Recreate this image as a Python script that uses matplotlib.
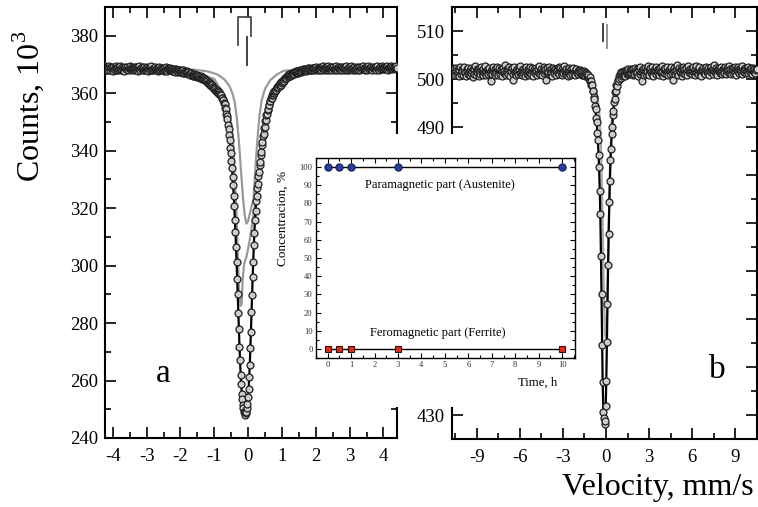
import numpy as np
import matplotlib
matplotlib.use("Agg")
import matplotlib.pyplot as plt
from matplotlib.patches import Rectangle
from matplotlib.ticker import MultipleLocator, FuncFormatter

# ---------------- spectrum a (velocity channels -4.25 .. 4.40 mm/s) ----------------
a_counts_left = [
    368.9, 368.1, 369.3, 368.4, 367.9, 369.0, 368.6, 368.2, 369.4, 368.7,
    368.0, 368.8, 369.1, 368.3, 368.6, 369.2, 367.8, 368.5, 368.9, 368.1,
    369.5, 368.6, 368.2, 368.8, 367.9, 369.0, 368.4, 368.7, 369.3, 368.0,
    368.5, 369.0, 368.2, 368.9, 368.6, 367.7, 368.8, 369.1, 368.3, 368.6,
    369.2, 368.4, 368.0, 368.9, 368.5, 369.4, 368.1, 368.7, 368.3, 369.0,
    368.6, 367.9, 368.8, 369.1, 368.4, 368.2, 369.0, 368.6, 367.8, 368.9,
    368.3, 369.3, 368.5, 368.1, 368.8, 368.4, 369.0, 367.9, 368.6, 368.2,
    369.1, 368.5, 368.0, 368.8, 368.3, 369.2, 368.6, 367.8, 368.4, 368.9,
    368.1, 368.7, 369.3, 368.2, 368.5, 367.9, 368.8, 368.3, 368.6, 369.0,
    368.0, 368.4, 368.9, 367.8, 368.6, 368.2, 369.1, 368.3, 367.9, 368.7,
    368.4, 368.0, 368.8, 368.5, 367.7, 368.6, 368.2, 369.0, 368.1, 368.4,
    367.8, 368.6, 368.3, 368.0, 368.7, 367.9, 368.4, 368.1, 367.6, 368.5,
    368.2, 367.7, 368.4, 367.9, 367.5, 368.3, 368.0, 367.6, 368.1, 367.4,
    367.9, 368.2, 367.5, 367.8, 367.3, 368.0, 367.6, 367.2, 367.9, 367.5,
    367.1, 367.8, 367.4, 367.0, 367.6,
]
a_counts_dip = [
    367.5, 366.8, 367.4, 366.6, 367.2, 366.5, 367.0, 366.9, 366.3, 366.8,
    366.1, 366.7, 366.0, 366.5, 365.9, 366.4, 365.7, 366.2, 365.6, 366.1,
    365.5, 366.0,
    365.4, 365.9, 365.2, 365.6, 365.0, 365.4, 364.8, 365.3, 364.6, 364.9, 364.3,
    364.6, 364.0, 364.3, 363.6, 363.9, 363.2, 363.5, 362.9, 363.1, 362.4, 362.8, 362.0,
    362.3, 361.6, 361.9, 361.2, 361.5, 360.8, 361.1, 360.5, 360.7, 360.0, 360.3, 359.6,
    359.8, 359.0, 359.2, 358.4, 358.5, 357.6, 357.6, 356.5, 356.3, 355.0, 354.5, 352.9, 352.2,
    350.9, 348.8, 347.6, 345.3, 343.8, 341.1, 339.3, 336.3, 334.1, 330.8, 328.0, 324.1, 320.7,
    316.0, 311.7, 306.3, 301.4, 295.4, 290.0, 283.6, 278.0, 271.8, 267.0,
    262.0, 258.7, 255.4, 253.5, 251.4, 250.5, 249.1, 248.9, 248.1,
    248.8, 249.1, 250.6, 251.8, 254.4, 257.0, 261.2, 265.4, 271.2, 276.8,
    283.7, 289.6, 296.0, 301.3, 307.0, 311.3, 315.8, 319.0,
    322.6, 324.3, 326.9, 328.3, 331.1, 332.5, 334.9, 336.1, 338.5, 339.7,
    342.0, 343.0, 345.1, 345.9, 347.8, 348.4, 350.2, 350.7, 352.3, 352.7,
    354.2, 354.5, 355.9, 356.0, 357.3, 357.3, 358.4, 358.3, 359.4, 359.2,
    360.2, 360.0,
    360.9, 360.6, 361.5, 361.2, 362.1, 361.7, 362.5, 362.1, 362.9, 362.5,
    363.4, 363.0, 363.9, 363.5, 364.3, 364.0, 364.8, 364.4, 365.2, 364.8,
    365.6, 365.2, 366.0, 365.6, 366.3, 365.9, 366.6, 366.1,
    366.8, 366.3, 367.0, 366.5, 367.1, 366.6, 367.3, 366.8, 367.4, 366.9,
    367.6, 367.0, 367.7, 367.2, 367.8, 367.3, 367.9, 367.4, 368.0, 367.5,
]
a_counts_right = [
    368.1, 367.6, 368.3, 367.7, 368.2, 367.9, 368.5, 367.8, 368.4, 368.0,
    368.6, 367.9, 368.3, 368.7, 368.0, 368.5, 368.2, 368.9, 367.9, 368.4,
    368.7, 368.1, 368.9, 368.3, 368.6, 369.1, 368.2, 368.5, 368.9, 368.0,
    368.7, 369.2, 368.4, 368.6, 368.1, 368.9, 369.3, 368.3, 368.7, 368.0,
    368.8, 368.5, 369.1, 368.2, 368.6, 369.4, 368.4, 368.0, 368.9, 368.6,
    368.3, 369.0, 368.7, 368.1, 368.8, 369.2, 368.5, 368.2, 368.9, 368.4,
    369.3, 368.6, 368.0, 368.8, 368.4, 369.1, 368.7, 368.2, 369.0, 368.5,
    368.1, 368.9, 369.2, 368.4, 368.7, 368.0, 368.8, 369.3, 368.5, 368.2,
    368.9, 368.6, 368.1, 369.0, 368.4, 368.8, 369.4, 368.3, 368.7, 368.0,
    368.6, 369.1, 368.5, 368.2, 368.9, 368.4, 369.0, 368.7, 368.1, 368.8,
    369.2, 368.5, 368.0, 368.7, 369.1, 368.3, 368.6, 369.3, 368.4, 368.8,
    368.1, 368.9, 368.5, 369.0, 368.2, 368.7, 369.4, 368.6, 368.3, 368.9,
    368.5, 369.1, 368.4, 368.0, 368.8, 369.2, 368.6, 368.3, 369.0, 368.7,
    368.2, 368.9, 369.3, 368.5, 368.8, 368.1, 368.7, 369.0, 368.4, 369.6,
    368.6, 368.9, 368.3, 369.2, 368.7, 368.5, 369.0, 368.4, 368.8, 369.5,
    368.7, 368.2, 368.9, 369.1, 368.5, 368.8, 369.3, 368.6, 369.0, 368.4,
    368.9, 369.2, 368.6, 369.0, 368.7, 369.4, 368.8,
]
a_fit_v = [-4.25, -2.8, -2.2, -1.795, -1.44, -1.254, -1.051, -0.847, -0.763, -0.695,
           -0.644, -0.594, -0.543, -0.492, -0.458, -0.424, -0.390, -0.357, -0.323,
           -0.289, -0.255, -0.221, -0.187, -0.153, -0.120, -0.086, -0.052, -0.018,
           0.016, 0.050, 0.084, 0.118, 0.151, 0.185, 0.219, 0.253, 0.287, 0.338,
           0.389, 0.456, 0.524, 0.609, 0.693, 0.778, 0.913, 1.082, 1.235, 1.573,
           1.996, 4.40]
a_fit_c = [368.6, 368.4, 368.0, 367.2, 365.8, 364.6, 362.3, 359.9, 358.3, 356.1,
           353.2, 349.1, 343.6, 336.6, 331.0, 324.3, 316.2, 306.5, 295.6,
           283.8, 272.0, 262.2, 255.6, 251.6, 249.3, 248.3, 249.3, 252.0,
           257.2, 265.6, 277.0, 289.8, 301.5, 311.5, 319.2, 324.6, 328.6, 334.6,
           340.0, 346.2, 351.0, 355.6, 358.6, 360.6, 362.6, 364.9, 366.4, 367.8,
           368.5, 368.6]
# singlet component (grey)
a_sing_v = [-4.25, -1.6, -1.2, -0.9, -0.7, -0.55, -0.45, -0.39, -0.33, -0.27, -0.21,
            -0.15, -0.10, -0.05, 0.0, 0.05, 0.10, 0.157, 0.21, 0.27, 0.33, 0.40,
            0.5, 0.65, 0.85, 1.05, 1.5, 4.40]
a_sing_c = [368.3, 368.2, 367.6, 366.5, 364.8, 362.5, 359.5, 356.5, 351.0, 343.0, 333.0,
            323.5, 317.5, 314.6, 315.5, 318.0, 320.5, 323.0, 333.0, 343.0, 351.5, 357.5,
            361.5, 364.5, 366.5, 367.8, 368.2, 368.3]
# doublet component (grey)
a_doub_v = [-4.25, -1.8, -1.0, -0.6, -0.45, -0.35, -0.27, -0.22, -0.19, -0.16, -0.12,
            -0.05, 0.01, 0.08, 0.15, 0.23, 0.30, 0.40, 0.50, 0.70, 1.0, 1.5, 2.0, 4.40]
a_doub_c = [368.3, 368.0, 365.0, 357.0, 345.0, 320.0, 292.0, 286.0, 286.5, 295.0, 300.5,
            303.0, 306.5, 311.0, 317.0, 323.0, 333.0, 345.0, 352.0, 359.0, 364.5, 367.5,
            368.2, 368.3]
a_doublet_lines = [-0.30, 0.10]
a_singlet_line = -0.04

# ---------------- spectrum b (velocity channels -10.75 .. 10.50 mm/s) ----------------
b_counts_left = [
    501.8, 500.9, 502.3, 501.2, 502.0, 501.5, 500.8, 502.4, 501.7, 501.1,
    502.1, 501.4, 500.7, 501.9, 502.5, 501.3, 501.0, 502.2, 501.6, 500.9,
    501.8, 502.6, 501.2, 501.5, 500.6, 502.0, 501.7, 501.0, 502.3, 501.4,
    500.8, 501.9, 502.4, 501.3, 501.6, 500.5, 502.1, 501.8, 501.1, 502.7,
    501.5, 500.9, 502.0, 501.4, 501.8, 500.7, 502.2, 501.6, 501.0, 502.5,
    501.3, 501.9, 500.8, 502.1, 501.5, 501.2, 502.8, 501.7, 500.9, 501.4,
    502.2, 501.0, 501.8, 502.4, 501.3, 499.6, 501.6, 502.0, 501.1, 501.9,
    502.5, 501.4, 500.8, 502.1, 501.7, 501.2, 502.6, 501.5, 500.9, 501.8,
    502.3, 501.1, 501.6, 502.0, 500.6, 501.9, 502.4, 501.3, 501.7, 502.9,
    501.2, 500.8, 502.1, 501.5, 501.9, 501.0, 502.6, 501.4, 500.7, 502.0,
    501.6, 502.3, 501.1, 499.8, 501.8, 502.5, 501.3, 501.7, 500.9, 502.2,
    501.5, 501.0, 502.4, 501.8, 501.2, 502.7, 501.4, 500.8, 501.9, 502.1,
    501.3, 501.6, 500.6, 502.0, 501.7, 502.5, 501.1, 501.4, 502.2, 500.9,
    501.8, 502.6, 501.3, 501.0, 501.9, 502.3, 501.5, 500.7, 502.0, 501.6,
    501.2, 502.4, 501.7, 500.9, 501.5, 502.1, 501.3, 502.8, 501.0, 501.8,
    502.2, 501.4, 500.8, 501.9, 502.5, 501.2, 501.6, 502.0, 499.9, 501.7,
    502.3, 501.1, 501.5, 502.6, 501.0, 501.8, 502.1, 501.3, 500.7, 502.4,
    501.6, 501.9, 501.2, 502.2, 501.5, 500.9, 502.0, 501.7, 501.3, 502.5,
    501.0, 501.8, 502.3, 501.4, 500.8, 502.1, 501.6, 501.2, 502.7, 501.5,
    501.9, 501.1, 502.0, 501.4, 500.6, 501.8, 502.4, 501.3, 501.7, 500.9,
    502.2, 501.5, 501.0, 501.9, 502.3, 501.2, 501.6, 500.8, 501.8, 502.1,
    501.3, 501.7, 501.0, 501.9, 501.4,
]
b_counts_dip = [
    501.8, 501.0, 501.6, 500.9, 501.5, 500.8, 501.7, 500.9, 501.4, 500.7, 501.3, 500.6, 501.0,
    500.5, 500.9, 500.1, 500.4, 499.5, 499.7, 498.7, 498.8, 497.6, 497.5,
    496.2, 495.9, 494.3, 493.8, 491.9, 491.0, 488.7, 487.3, 484.2, 481.6,
    476.7, 471.8, 463.2, 455.3, 444.7, 436.8, 430.7, 429.3, 428.1,
    428.7, 431.8, 437.2, 445.3, 453.2, 461.3, 467.7, 474.3, 478.7, 483.1,
    485.5, 488.6, 490.1, 492.5, 493.4, 495.3, 495.8, 497.3, 497.5, 498.8,
    498.6, 499.9, 499.5, 500.6, 500.0, 501.1, 500.3, 501.4, 500.6, 501.5,
    500.8, 501.7, 500.9, 501.6, 500.7, 501.8, 501.0, 501.7, 501.1, 502.0,
    501.0, 501.8, 501.2, 502.1,
]
b_counts_right = [
    501.3, 501.9, 500.8, 502.2, 501.5, 501.0, 502.4, 501.7, 501.2, 502.0,
    501.4, 500.7, 502.3, 501.8, 501.1, 502.6, 501.5, 499.5, 501.9, 502.1,
    501.3, 501.7, 500.9, 502.4, 501.6, 501.0, 502.0, 501.4, 502.7, 501.2,
    500.8, 501.9, 502.3, 501.5, 501.1, 502.5, 501.7, 500.6, 501.8, 502.2,
    501.4, 501.0, 502.6, 501.6, 501.3, 502.1, 500.9, 501.8, 502.4, 501.2,
    501.7, 502.8, 501.5, 500.7, 502.0, 501.3, 501.9, 502.3, 501.1, 501.6,
    502.5, 501.4, 500.8, 501.9, 502.2, 501.0, 501.7, 502.6, 501.3, 499.8,
    501.8, 502.4, 501.5, 501.0, 502.1, 501.6, 502.9, 501.2, 500.9, 501.8,
    502.3, 501.4, 501.7, 502.0, 500.7, 501.9, 502.5, 501.3, 501.6, 502.2,
    501.1, 501.8, 502.4, 501.5, 500.8, 502.7, 501.4, 501.9, 502.1, 501.2,
    501.6, 502.3, 501.0, 501.7, 502.6, 501.3, 500.9, 502.0, 501.5, 502.8,
    501.4, 501.1, 502.2, 501.8, 502.5, 501.2, 501.6, 500.7, 502.0, 501.9,
    502.4, 501.3, 501.7, 502.1, 501.0, 502.6, 501.5, 501.8, 502.3, 501.2,
    500.8, 502.0, 501.6, 502.5, 501.4, 501.9, 502.2, 501.1, 501.7, 503.0,
    501.5, 501.2, 502.3, 501.8, 500.9, 502.1, 501.6, 502.4, 501.3, 501.9,
    502.6, 501.4, 501.0, 502.0, 501.7, 502.2, 501.3, 502.5, 501.8, 501.1,
    502.3, 501.6, 501.9, 502.7, 501.2, 501.5, 502.1, 501.0, 502.4, 501.8,
    501.3, 502.0, 501.7, 502.6, 501.4, 500.9, 502.2, 501.8, 502.5, 501.6,
    502.0, 501.2, 501.9, 502.3, 501.5, 502.8, 501.1, 501.7, 502.1, 501.4,
    502.4, 501.8, 501.3, 502.0, 501.6, 502.5, 501.2, 501.9, 502.2, 501.5,
    501.8, 502.3, 501.0, 501.7, 502.4, 501.6, 502.0, 501.3, 502.2, 501.8, 502.1,
]
b_fit_v = [-10.75, -2.0, -1.809, -1.518, -1.352, -1.268, -1.144, -1.019, -0.894, -0.770,
           -0.686, -0.603, -0.562, -0.520, -0.479, -0.437, -0.395, -0.354, -0.312,
           -0.270, -0.229, -0.187, -0.146, -0.104, -0.063, -0.021, 0.021, 0.063,
           0.104, 0.146, 0.188, 0.229, 0.271, 0.312, 0.354, 0.396, 0.479, 0.562,
           0.645, 0.770, 0.894, 1.061, 1.310, 1.726, 10.50]
b_fit_c = [501.5, 501.5, 501.4, 501.1, 500.9, 500.8, 500.1, 499.0, 497.3, 494.6,
           492.2, 489.0, 487.0, 484.5, 481.3, 477.0, 471.5, 463.5, 455.0,
           445.0, 436.5, 431.0, 429.0, 428.4, 429.0, 431.5, 437.5, 445.0,
           453.5, 461.0, 468.0, 474.0, 479.0, 482.8, 485.8, 488.3, 492.2, 495.0,
           497.0, 499.0, 500.2, 500.9, 501.2, 501.5, 501.5]
b_comp_v = [-10.75, -1.5, -0.9, -0.6, -0.45, -0.35, -0.25, -0.15, -0.08, 0.0, 0.08,
            0.18, 0.28, 0.40, 0.60, 0.90, 1.5, 10.50]
b_comp_c = [501.5, 501.3, 499.5, 496.5, 492.5, 486.0, 472.0, 455.0, 447.0, 446.0, 452.0,
            468.0, 482.0, 491.0, 496.5, 499.5, 501.3, 501.5]
b_doublet_lines = [-0.23, 0.05]
b_visible_ticks = [430, 490, 500, 510]

# ---------------- inset ----------------
time_h = [0, 0.5, 1, 3, 10]
paramagnetic = [100, 100, 100, 100, 100]
ferromagnetic = [0, 0, 0, 0, 0]

# ------------------------------------------------------------------
plt.rcParams["font.family"] = ["Liberation Serif", "DejaVu Serif"]
plt.rcParams["mathtext.fontset"] = "custom"
plt.rcParams["mathtext.rm"] = "Liberation Serif"
plt.rcParams["axes.unicode_minus"] = False

a_counts = np.array(a_counts_left + a_counts_dip + a_counts_right)
a_v = np.linspace(-4.25, 4.40, len(a_counts))
b_counts = np.array(b_counts_left + b_counts_dip + b_counts_right)
b_v = np.linspace(-10.75, 10.50, len(b_counts))

fig = plt.figure(figsize=(7.58, 5.07), dpi=100)
ax_a = fig.add_axes([0.1385, 0.1361, 0.3852, 0.8501])
ax_b = fig.add_axes([0.5963, 0.1340, 0.4020, 0.8520])

point_style = dict(marker="o", ms=5.0, mfc="#cdcdcd", mec="#1e1e1e", mew=0.9,
                   ls="none", zorder=3)

for ax in (ax_a, ax_b):
    for sp in ax.spines.values():
        sp.set_linewidth(1.5)
    ax.tick_params(which="both", direction="in", top=True, right=True,
                   labelsize=13.5, width=1.2)
    ax.tick_params(which="major", length=8)
    ax.tick_params(which="minor", length=4)
    ax.tick_params(axis="x", pad=7)
    ax.tick_params(axis="y", pad=5)

# panel a
ax_a.plot(a_sing_v, a_sing_c, color="#9a9a9a", lw=1.6, zorder=1)
ax_a.plot(a_doub_v, a_doub_c, color="#9a9a9a", lw=1.6, zorder=1)
ax_a.plot(a_fit_v, a_fit_c, color="black", lw=1.6, zorder=2)
ax_a.plot(a_v, a_counts, **point_style)
d0, d1 = a_doublet_lines
ax_a.plot([d0, d0, d1, d1], [376.9, 386.5, 386.5, 379.8], color="#4a4a4a", lw=1.3)
ax_a.plot([a_singlet_line, a_singlet_line], [379.4, 369.7], color="#333333", lw=1.3)
ax_a.set_xlim(-4.23, 4.40)
ax_a.set_ylim(240, 390)
ax_a.xaxis.set_major_locator(MultipleLocator(1))
ax_a.xaxis.set_minor_locator(MultipleLocator(0.5))
ax_a.yaxis.set_major_locator(MultipleLocator(20))
ax_a.yaxis.set_minor_locator(MultipleLocator(10))
ax_a.text(-2.5, 262.5, "a", fontsize=24, ha="center", va="center")

# panel b
ax_b.plot(b_comp_v, b_comp_c, color="#a8a8a8", lw=1.6, zorder=1)
ax_b.plot(b_fit_v, b_fit_c, color="black", lw=1.6, zorder=2)
ax_b.plot(b_v, b_counts, **point_style)
ax_b.plot([b_doublet_lines[0]] * 2, [511.4, 507.9], color="#333333", lw=1.3)
ax_b.plot([b_doublet_lines[1]] * 2, [511.2, 506.5], color="#8a8a8a", lw=1.3)
ax_b.set_xlim(-10.73, 10.50)
ax_b.set_ylim(425, 515)
ax_b.xaxis.set_major_locator(MultipleLocator(3))
ax_b.xaxis.set_minor_locator(MultipleLocator(1.5))
ax_b.yaxis.set_major_locator(MultipleLocator(10))
ax_b.yaxis.set_minor_locator(MultipleLocator(5))
# labels 440..480 sit under the inset, so they are left blank
ax_b.yaxis.set_major_formatter(FuncFormatter(
    lambda val, pos: f"{val:.0f}" if round(val) in b_visible_ticks else ""))
ax_b.text(7.76, 439.4, "b", fontsize=24, ha="center", va="center")

fig.text(0.037, 0.79, "Counts, 10$^3$", rotation=90, fontsize=23,
         ha="center", va="center")
fig.text(0.868, 0.039, "Velocity, mm/s", fontsize=23, ha="center", va="center")

# white area behind the inset
fig.add_artist(Rectangle((270 / 758, 1 - 407 / 507), 320 / 758, 273 / 507,
                         transform=fig.transFigure, facecolor="white",
                         edgecolor="none", zorder=1))

ax_in = fig.add_axes([0.4169, 0.2939, 0.3417, 0.3945])
ax_in.set_zorder(2)
ax_in.plot(time_h, paramagnetic, color="black", lw=1.0, marker="o", ms=5.2,
           mfc="#2b3f98", mec="#121f55", mew=0.8)
ax_in.plot(time_h, ferromagnetic, color="black", lw=1.0, marker="s", ms=5.0,
           mfc="#d8311f", mec="#3a0a05", mew=0.8)
ax_in.set_xlim(-0.5, 10.55)
ax_in.set_ylim(-5, 105)
ax_in.xaxis.set_major_locator(MultipleLocator(1))
ax_in.xaxis.set_minor_locator(MultipleLocator(0.5))
ax_in.yaxis.set_major_locator(MultipleLocator(10))
ax_in.yaxis.set_minor_locator(MultipleLocator(5))
ax_in.tick_params(which="both", direction="in", top=True, right=True,
                  labelsize=6.2, width=0.8, pad=2.5, labelcolor="#333333")
ax_in.tick_params(which="major", length=3.5)
ax_in.tick_params(which="minor", length=2)
for sp in ax_in.spines.values():
    sp.set_linewidth(1.0)
ax_in.set_ylabel("Concentracion, %", fontsize=9.5)
ax_in.yaxis.set_label_coords(-0.105, 0.70)
ax_in.set_xlabel("Time, h", fontsize=9.3)
ax_in.xaxis.set_label_coords(0.857, -0.095)
ax_in.text(4.79, 90.1, "Paramagnetic part (Austenite)", fontsize=9,
           ha="center", va="center")
ax_in.text(4.7, 9.0, "Feromagnetic part (Ferrite)", fontsize=9,
           ha="center", va="center")

fig.savefig("out.png", dpi=100)
